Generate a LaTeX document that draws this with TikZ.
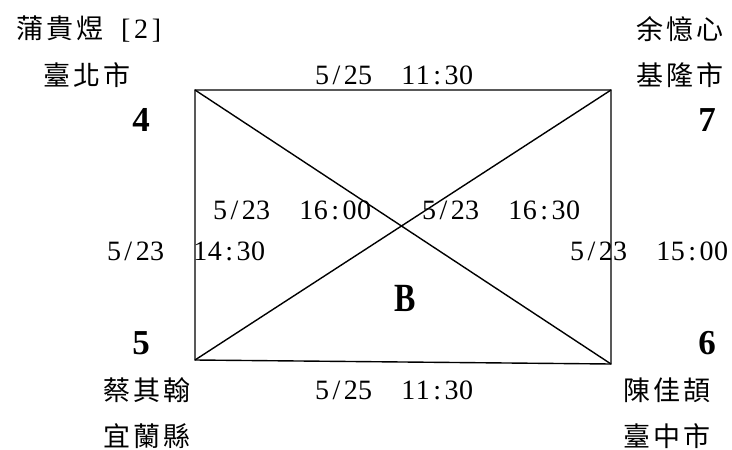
\documentclass[tikz,border=0pt]{standalone}
\usepackage{fontspec}
\setmainfont{Liberation Serif}
\newfontfamily\cjk[LetterSpace=10]{Noto Sans CJK TC}
\def\mono#1{\monoloop#1\relax}
\def\monoloop#1{\ifx#1\relax\else\makebox[14.4pt]{#1}\expandafter\monoloop\fi}
\tikzset{
  cjklabel/.style={inner sep=0pt, font=\cjk\fontsize{27}{27}\selectfont},
  timelabel/.style={inner sep=0pt, font=\fontsize{28}{28}\selectfont},
  numlabel/.style={inner sep=0pt, font=\bfseries\fontsize{35}{35}\selectfont},
  edge/.style={line width=1.4pt}
}
\begin{document}
\begin{tikzpicture}[x=1pt,y=-1pt]
\useasboundingbox (0,0) rectangle (732,450);
% corners
\coordinate (TL) at (195,90);
\coordinate (TR) at (611,90);
\coordinate (BR) at (611,364);
\coordinate (BL) at (195,360);
\draw[edge] (TL) -- (TR) -- (BR) -- (BL) -- cycle;
\draw[edge] (TL) -- (BR);
\draw[edge] (BL) -- (TR);
% names
\node[cjklabel] (n4a) at (89,29) {蒲貴煜\hspace{18pt}{\fontspec{Liberation Serif}\fontsize{28}{28}\selectfont\makebox[12pt][l]{[}\makebox[16pt]{2}\makebox[12pt][r]{]}}};
\node[cjklabel] (n4b) at (87,75) {臺北市};
\node[numlabel] (n4) at (141,120) {4};
\node[cjklabel] (n7a) at (680,29) {余憶心};
\node[cjklabel] (n7b) at (680,75) {基隆市};
\node[numlabel] (n7) at (707,120) {7};
\node[numlabel] (n5) at (141,343) {5};
\node[cjklabel] (n5a) at (147,390) {蔡其翰};
\node[cjklabel] (n5b) at (147,436) {宜蘭縣};
\node[numlabel] (n6) at (707,343) {6};
\node[cjklabel] (n6a) at (667,390) {陳佳頡};
\node[cjklabel] (n6b) at (667,436) {臺中市};
% times
\node[timelabel] (t1) at (394,75) {\mono{5/25~~11:30}};
\node[timelabel] (t2) at (394,390) {\mono{5/25~~11:30}};
\node[timelabel] (t3) at (292,210) {\mono{5/23~~16:00}};
\node[timelabel] (t4) at (501,210) {\mono{5/23~~16:30}};
\node[timelabel] (t5) at (186,251) {\mono{5/23~~14:30}};
\node[timelabel] (t6) at (649,251) {\mono{5/23~~15:00}};
\node[numlabel, xscale=0.8, transform shape, font=\bfseries\fontsize{40}{40}\selectfont] (b) at (405,298) {B};
\end{tikzpicture}
\end{document}
